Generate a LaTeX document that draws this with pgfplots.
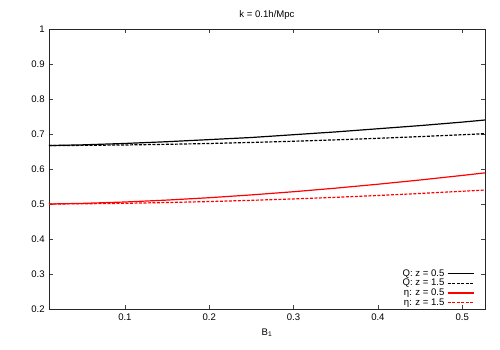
\documentclass[border=0pt]{standalone}
\usepackage{pgfplots}
\pgfplotsset{compat=1.18}
\usepackage{fontspec}
\setmainfont{Liberation Sans}
\begin{document}
\fontsize{9.6}{11}\selectfont
\begin{tikzpicture}[x=1bp,y=1bp]
\path[use as bounding box] (-49bp,-41bp) rectangle (451bp,309bp);
\begin{axis}[
  at={(0,0)}, anchor=south west,
  scale only axis, width=436bp, height=280bp,
  xmin=0.01, xmax=0.527, ymin=0.2, ymax=1,
  xtick={0.1,0.2,0.3,0.4,0.5},
  ytick={0.2,0.3,0.4,0.5,0.6,0.7,0.8,0.9,1},
  yticklabels={0.2,0.3,0.4,0.5,0.6,0.7,0.8,0.9,1},
  xticklabels={0.1,0.2,0.3,0.4,0.5},
  tick align=inside, tick pos=both,
  major tick length=4bp,
  every tick/.style={black!75, line width=0.6pt},
  axis line style={black!85, line width=0.7pt},
  /pgf/number format/assume math mode=true,
  tick label style={font=\fontsize{9.6}{11}\selectfont},
  xticklabel style={yshift=-1.5bp},
  yticklabel style={xshift=-1bp},
  title={k = 0.1h/Mpc},
  title style={at={(0.5,1)}, anchor=south, yshift=0bp, font=\fontsize{9.6}{11}\selectfont},
  xlabel={B\textsubscript{1}},
  xlabel style={at={(0.5,0)}, anchor=north, yshift=-16.5bp, font=\fontsize{9.6}{11}\selectfont},
  legend plot pos=right,
  legend cell align=right,
  legend style={draw=none, fill=none, at={(0.9755,0.005)}, anchor=south east,
    font=\fontsize{9.6}{11}\selectfont, row sep=0bp, column sep=2bp, inner sep=0bp,
    nodes={inner sep=0.5bp, text height=6.8bp, text depth=1.8bp}},
  legend image code/.code={\draw[#1] (0bp,0bp) -- (26bp,0bp);},
]
\addplot[black, line width=1.2pt] coordinates {
(0.01,0.667) (0.05,0.669) (0.1,0.673) (0.15,0.678) (0.2,0.684) (0.25,0.690)
(0.3,0.698) (0.35,0.706) (0.4,0.715) (0.45,0.724) (0.5,0.734) (0.527,0.740)};
\addlegendentry{Q: z = 0.5}
\addplot[black, line width=1.2pt, dash pattern=on 3bp off 1.5bp] coordinates {
(0.01,0.667) (0.05,0.6675) (0.1,0.6687) (0.15,0.6705) (0.2,0.6729) (0.25,0.6759)
(0.3,0.6793) (0.35,0.6833) (0.4,0.6877) (0.45,0.6926) (0.5,0.6979) (0.527,0.701)};
\addlegendentry{Q: z = 1.5}
\addplot[red, line width=1.2pt] coordinates {
(0.01,0.5) (0.05,0.5018) (0.1,0.5057) (0.15,0.5112) (0.2,0.518) (0.25,0.526)
(0.3,0.5351) (0.35,0.5453) (0.4,0.5565) (0.45,0.5686) (0.5,0.5816) (0.527,0.589)};
\addlegendentry{η: z = 0.5}
\addplot[red, line width=1.2pt, dash pattern=on 3bp off 1.5bp] coordinates {
(0.01,0.5) (0.05,0.5006) (0.1,0.502) (0.15,0.5042) (0.2,0.507) (0.25,0.5105)
(0.3,0.5145) (0.35,0.5191) (0.4,0.5243) (0.45,0.5301) (0.5,0.5364) (0.527,0.540)};
\addlegendentry{η: z = 1.5}
\end{axis}
\end{tikzpicture}
\end{document}
